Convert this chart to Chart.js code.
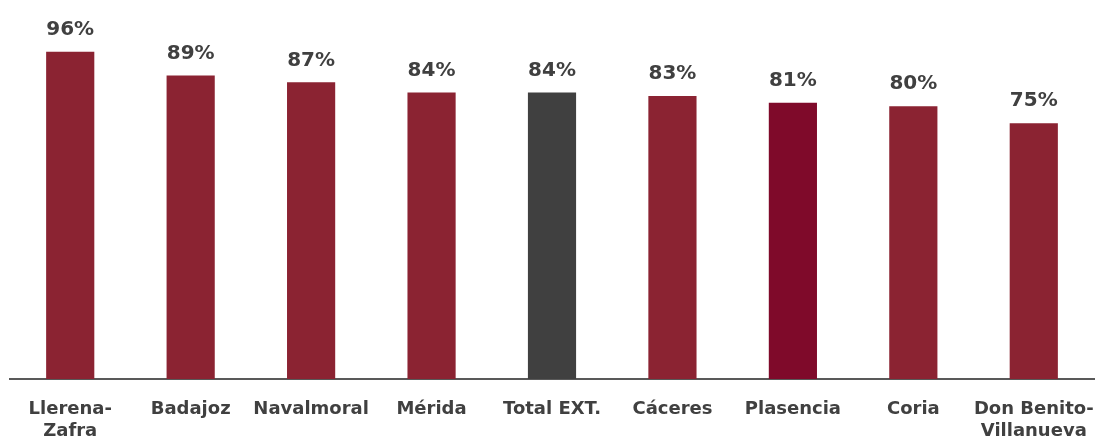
<!DOCTYPE html>
<html>
<head>
<meta charset="utf-8">
<script src="https://cdn.jsdelivr.net/npm/chart.js@4/dist/chart.umd.min.js"></script>
<style>
  html, body { margin: 0; padding: 0; background: #fff; }
  #wrap { width: 1097px; height: 447px; }
</style>
</head>
<body>
<div id="wrap"><canvas id="barCanvas"></canvas></div>
<script>
const areas = [['Llerena-', 'Zafra'], 'Badajoz', 'Navalmoral', 'Mérida', 'Total EXT.', 'Cáceres', 'Plasencia', 'Coria', ['Don Benito-', 'Villanueva']];
const porcentajes = [96, 89, 87, 84, 84, 83, 81, 80, 75];
const colores = ['#8b2332', '#8b2332', '#8b2332', '#8b2332', '#404040', '#8b2332', '#7f0a2a', '#8b2332', '#8b2332'];

const fuente = "'DejaVu Sans', sans-serif";

// escribe el porcentaje encima de cada barra
const etiquetas = {
    id: 'etiquetas',
    afterDatasetsDraw(chart) {
        const ctx = chart.ctx;
        const meta = chart.getDatasetMeta(0);
        ctx.save();
        ctx.font = 'bold 20px ' + fuente;
        ctx.fillStyle = '#404040';
        ctx.textAlign = 'center';
        ctx.textBaseline = 'bottom';
        meta.data.forEach((bar, i) => {
            ctx.fillText(porcentajes[i] + '%', bar.x, bar.y - 12);
        });
        ctx.restore();
    }
};

const barChart = document.getElementById('barCanvas');
const grafico = new Chart(barChart, {
    type: 'bar',
    data: {
        labels: areas,
        datasets: [{
            data: porcentajes,
            backgroundColor: colores,
            barPercentage: 0.8,
            categoryPercentage: 0.5
        }]
    },
    options: {
        responsive: true,
        maintainAspectRatio: false,
        animation: false,
        layout: {
            padding: { left: 10, right: 3, top: 38, bottom: 4 }
        },
        scales: {
            x: {
                grid: { display: false, drawTicks: false },
                border: { display: true, color: '#595959', width: 2 },
                ticks: {
                    color: '#404040',
                    font: { family: fuente, size: 18, weight: 'bold', lineHeight: 1.22 },
                    padding: 19,
                    maxRotation: 0,
                    autoSkip: false
                },
                // alto fijo del eje y sin margen lateral por las etiquetas largas
                afterFit(scale) {
                    scale.height = 64;
                    scale.paddingLeft = 0;
                    scale.paddingRight = 0;
                }
            },
            y: {
                display: false,
                min: 0,
                max: 100
            }
        },
        plugins: {
            legend: { display: false },
            tooltip: { enabled: false }
        }
    },
    plugins: [etiquetas]
});
</script>
</body>
</html>
